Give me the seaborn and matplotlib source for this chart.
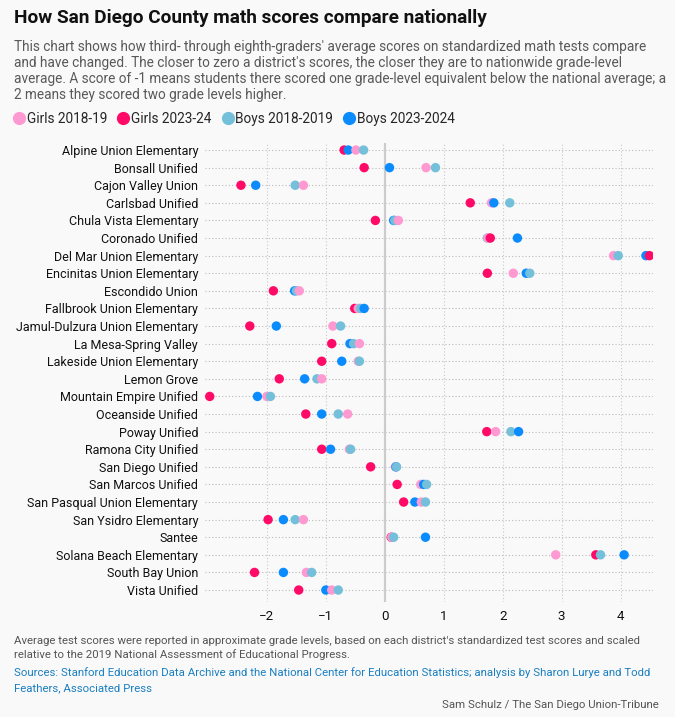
import pandas as pd
import matplotlib.pyplot as plt
from matplotlib.lines import Line2D
import seaborn as sns

districts = [
    "Alpine Union Elementary", "Bonsall Unified", "Cajon Valley Union", "Carlsbad Unified",
    "Chula Vista Elementary", "Coronado Unified", "Del Mar Union Elementary",
    "Encinitas Union Elementary", "Escondido Union", "Fallbrook Union Elementary",
    "Jamul-Dulzura Union Elementary", "La Mesa-Spring Valley", "Lakeside Union Elementary",
    "Lemon Grove", "Mountain Empire Unified", "Oceanside Unified", "Poway Unified",
    "Ramona City Unified", "San Diego Unified", "San Marcos Unified",
    "San Pasqual Union Elementary", "San Ysidro Elementary", "Santee",
    "Solana Beach Elementary", "South Bay Union", "Vista Unified",
]

girls_2018 = [-0.49, 0.70, -1.38, 1.81, 0.23, 1.75, 3.88, 2.18, -1.45, -0.45, -0.88, -0.43, -0.45,
              -1.07, -2.00, -0.63, 1.88, -0.60, 0.18, 0.61, 0.62, -1.38, 0.12, 2.90, -1.33, -0.90]
girls_2023 = [-0.69, -0.35, -2.44, 1.45, -0.16, 1.79, 4.49, 1.74, -1.89, -0.51, -2.29, -0.90, -1.07,
              -1.79, -2.97, -1.34, 1.73, -1.07, -0.24, 0.21, 0.32, -1.98, 0.11, 3.58, -2.21, -1.46]
boys_2018 = [-0.36, 0.86, -1.52, 2.12, 0.17, 1.74, 3.96, 2.46, -1.50, -0.41, -0.75, -0.53, -0.43,
             -1.15, -1.94, -0.79, 2.14, -0.58, 0.20, 0.71, 0.69, -1.52, 0.15, 3.66, -1.24, -0.79]
boys_2023 = [-0.62, 0.08, -2.19, 1.85, 0.15, 2.25, 4.43, 2.40, -1.53, -0.35, -1.84, -0.59, -0.73,
             -1.36, -2.16, -1.07, 2.27, -0.92, 0.19, 0.66, 0.51, -1.72, 0.69, 4.06, -1.72, -1.00]

series_names = ["Girls 2018-19", "Girls 2023-24", "Boys 2018-2019", "Boys 2023-2024"]
series_colors = ["#ff99d1", "#ff0a66", "#74bfd9", "#0a8cff"]

rows = []
for name, vals in zip(series_names, [girls_2018, girls_2023, boys_2018, boys_2023]):
    for d, v in zip(districts, vals):
        rows.append({"district": d, "score": v, "series": name})
df = pd.DataFrame(rows)
df["row"] = df["district"].map({d: i for i, d in enumerate(districts)})
# rightmost dot sits on top in each row
df = df.sort_values(["row", "score"]).reset_index(drop=True)

bg = "#f9f9f9"
sns.set_theme(style="white")
plt.rcParams["font.family"] = ["Roboto", "DejaVu Sans"]

fig = plt.figure(figsize=(6.75, 7.17), dpi=100)
fig.patch.set_facecolor(bg)
ax = fig.add_axes([205 / 675, 1 - 602 / 717, 448 / 675, 459 / 717])
ax.set_facecolor(bg)

for i in range(len(districts)):
    ax.axhline(i, color="#bbbbbb", lw=0.8, ls=(0, (1, 2)), zorder=0)
for t in [-2, -1, 1, 2, 3, 4]:
    ax.axvline(t, color="#c8c8c8", lw=0.8, ls=(0, (1, 2)), zorder=0)
ax.axvline(0, color="#cccccc", lw=1.6, zorder=0)

sns.scatterplot(data=df, x="score", y="row", hue="series", hue_order=series_names,
                palette=series_colors, s=46, linewidth=0, alpha=1, legend=False, ax=ax, zorder=3)

ax.set_xlim(-3.05, 4.55)
ax.set_ylim(25.68, -0.4)
ax.set_yticks(range(len(districts)))
ax.set_yticklabels(districts, fontsize=9.0, color="#111111")
ax.set_xticks([-2, -1, 0, 1, 2, 3, 4])
ax.set_xticklabels(["\u22122", "\u22121", "0", "1", "2", "3", "4"], fontsize=9.6, color="#111111")
ax.tick_params(length=0, pad=5)
ax.tick_params(axis="x", pad=6)
ax.set_xlabel("")
ax.set_ylabel("")
for s in ax.spines.values():
    s.set_visible(False)

# title and intro
fig.text(14 / 675, 1 - 18 / 717, "How San Diego County math scores compare nationally",
         fontsize=13.7, fontweight="bold", color="#111111", va="center")
subtitle = [
    "This chart shows how third- through eighth-graders' average scores on standardized math tests compare",
    "and have changed. The closer to zero a district's scores, the closer they are to nationwide grade-level",
    "average. A score of -1 means students there scored one grade-level equivalent below the national average; a",
    "2 means they scored two grade levels higher.",
]
for k, line in enumerate(subtitle):
    fig.text(14 / 675, 1 - (47 + 16 * k) / 717, line, fontsize=9.8, color="#595959", va="center")

# legend
handles = [Line2D([], [], marker="o", ls="", markersize=9.5, markerfacecolor=c, markeredgewidth=0)
           for c in series_colors]
fig.legend(handles, series_names, loc="center left", bbox_to_anchor=(13 / 675, 1 - 119 / 717),
           ncol=4, frameon=False, fontsize=9.8, handlelength=0.9, handletextpad=0.1,
           columnspacing=0.75, borderpad=0, borderaxespad=0)

# footer
footer = [
    ("Average test scores were reported in approximate grade levels, based on each district's standardized test scores and scaled", 641, "#555555"),
    ("relative to the 2019 National Assessment of Educational Progress.", 655, "#555555"),
    ("Sources: Stanford Education Data Archive and the National Center for Education Statistics; analysis by Sharon Lurye and Todd", 673, "#1a7fc1"),
    ("Feathers, Associated Press", 688, "#1a7fc1"),
]
for line, y, col in footer:
    fig.text(14 / 675, 1 - y / 717, line, fontsize=8.2, color=col, va="center")
fig.text(659 / 675, 1 - 705 / 717, "Sam Schulz / The San Diego Union-Tribune",
         fontsize=8.2, color="#555555", va="center", ha="right")

fig.savefig("out.png", dpi=100, facecolor=bg)
